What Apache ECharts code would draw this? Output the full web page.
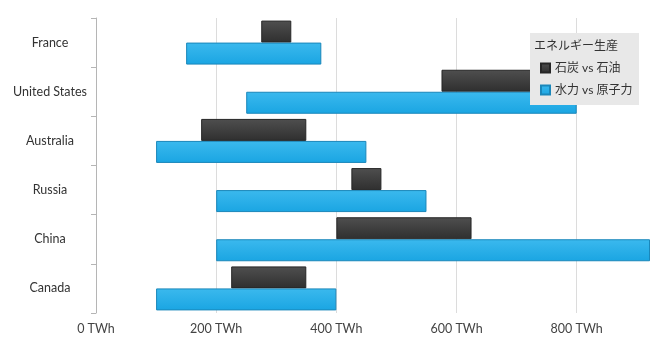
<!DOCTYPE html>
<html>
<head>
<meta charset="utf-8">
<script src="https://cdn.jsdelivr.net/npm/echarts@6/dist/echarts.min.js"></script>
<style>
  html, body { margin: 0; padding: 0; background: #fff; }
  #range { width: 661px; height: 352px; }
</style>
</head>
<body>
<div id="range"></div>
<script>
// カテゴリ（下から上へ）
var countries = ['Canada', 'China', 'Russia', 'Australia', 'United States', 'France'];
// 石炭 vs 石油 の範囲
var coalLow = [225, 400, 425, 175, 575, 275];
var coalHigh = [350, 625, 475, 350, 725, 325];
// 水力 vs 原子力 の範囲
var hydroLow = [100, 200, 200, 100, 250, 150];
var hydroHigh = [400, 922, 550, 450, 800, 375];
var tickValues = [0, 200, 400, 600, 800];

var coalName = '石炭 vs 石油';
var hydroName = '水力 vs 原子力';

function span(lo, hi) {
    return hi.map(function (v, i) { return v - lo[i]; });
}

var baseStyle = { color: 'transparent', borderWidth: 0 };

var option = {
    animation: false,
    textStyle: { fontFamily: 'Lato, Noto Sans CJK JP' },
    grid: { left: 96, right: 11, top: 18, bottom: 39 },
    xAxis: {
        type: 'value',
        min: tickValues[0],
        max: 922,
        interval: 200,
        axisLine: { show: false },
        axisTick: { show: false },
        axisLabel: {
            color: '#444',
            fontSize: 12.5,
            margin: 10,
            showMaxLabel: false,
            formatter: '{value} TWh'
        },
        splitLine: { showMaxLine: false, lineStyle: { color: '#dcdcdc' } }
    },
    yAxis: {
        type: 'category',
        data: countries,
        axisLine: { lineStyle: { color: '#b5b5b5' } },
        axisTick: { show: true, length: 5, lineStyle: { color: '#b5b5b5' } },
        axisLabel: { color: '#333', fontSize: 12.5, align: 'center', margin: 46, padding: [7, 0, 0, 0] }
    },
    legend: {
        data: [coalName, hydroName],
        orient: 'vertical',
        left: 535,
        top: 57,
        z: 20,
        icon: 'rect',
        itemWidth: 9,
        itemHeight: 9,
        itemGap: 10,
        textStyle: { color: '#333', fontSize: 12 }
    },
    graphic: [
        {
            type: 'rect', z: 15,
            shape: { x: 530, y: 33, width: 109, height: 72 },
            style: { fill: '#e8e8e8' }
        },
        {
            type: 'text', z: 20, x: 534, y: 39,
            style: { text: 'エネルギー生産', fill: '#333', font: '12px "Noto Sans CJK JP"' }
        }
    ],
    series: [
        {
            type: 'bar', stack: 'coal', silent: true,
            data: coalLow, itemStyle: baseStyle,
            barWidth: 22, barGap: '0%'
        },
        {
            name: coalName, type: 'bar', stack: 'coal',
            data: span(coalLow, coalHigh),
            barWidth: 22, barGap: '0%',
            itemStyle: {
                color: new echarts.graphic.LinearGradient(0, 0, 0, 1, [
                    { offset: 0, color: '#4f4f4f' },
                    { offset: 1, color: '#2f2f2f' }
                ]),
                borderColor: '#262626',
                borderWidth: 1
            }
        },
        {
            type: 'bar', stack: 'hydro', silent: true,
            data: hydroLow, itemStyle: baseStyle,
            barWidth: 22, barGap: '0%'
        },
        {
            name: hydroName, type: 'bar', stack: 'hydro',
            data: span(hydroLow, hydroHigh),
            barWidth: 22, barGap: '0%',
            itemStyle: {
                color: new echarts.graphic.LinearGradient(0, 0, 0, 1, [
                    { offset: 0, color: '#3bb9ee' },
                    { offset: 1, color: '#1aa5e2' }
                ]),
                borderColor: '#1a87ba',
                borderWidth: 1
            }
        }
    ]
};

var chart = echarts.init(document.getElementById('range'));
chart.setOption(option);
</script>
</body>
</html>
